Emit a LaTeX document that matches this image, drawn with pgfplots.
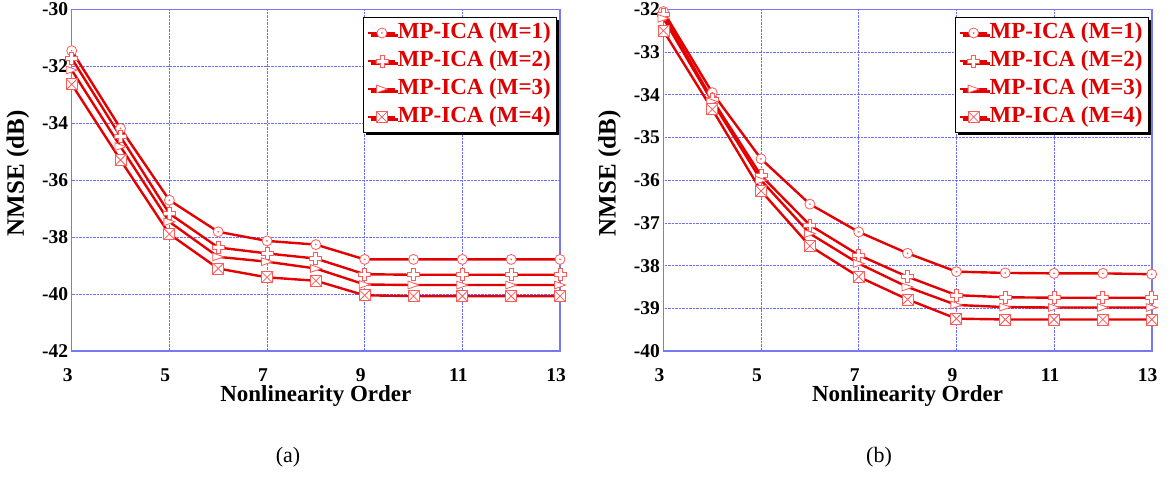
\documentclass[border=0pt]{standalone}
\usepackage{pgfplots}
\pgfplotsset{compat=1.18}
\usepackage{fontspec}
\setmainfont{Liberation Serif}
\usetikzlibrary{shadows}
\definecolor{lred}{RGB}{228,0,0}
\definecolor{mred}{RGB}{255,90,90}
\definecolor{tred}{RGB}{222,0,0}
\definecolor{gridblue}{RGB}{110,110,255}
\definecolor{axblue}{RGB}{120,120,245}

\pgfdeclareplotmark{dotcirc}{%
  \pgfpathcircle{\pgfpointorigin}{\pgfplotmarksize}\pgfusepathqfillstroke
  \pgfpathcircle{\pgfpointorigin}{0.4pt}\pgfusepathqstroke}
\pgfdeclareplotmark{hollowplus}{%
  \pgfmathsetlengthmacro\ma{\pgfplotmarksize}%
  \pgfmathsetlengthmacro\mb{0.33*\pgfplotmarksize}%
  \pgfpathmoveto{\pgfqpoint{-\mb}{\ma}}%
  \pgfpathlineto{\pgfqpoint{\mb}{\ma}}%
  \pgfpathlineto{\pgfqpoint{\mb}{\mb}}%
  \pgfpathlineto{\pgfqpoint{\ma}{\mb}}%
  \pgfpathlineto{\pgfqpoint{\ma}{-\mb}}%
  \pgfpathlineto{\pgfqpoint{\mb}{-\mb}}%
  \pgfpathlineto{\pgfqpoint{\mb}{-\ma}}%
  \pgfpathlineto{\pgfqpoint{-\mb}{-\ma}}%
  \pgfpathlineto{\pgfqpoint{-\mb}{-\mb}}%
  \pgfpathlineto{\pgfqpoint{-\ma}{-\mb}}%
  \pgfpathlineto{\pgfqpoint{-\ma}{\mb}}%
  \pgfpathlineto{\pgfqpoint{-\mb}{\mb}}%
  \pgfpathclose\pgfusepathqfillstroke}
\pgfdeclareplotmark{rtri}{%
  \pgfmathsetlengthmacro\ma{\pgfplotmarksize}%
  \pgfmathsetlengthmacro\mb{0.7*\pgfplotmarksize}%
  \pgfpathmoveto{\pgfqpoint{-\ma}{\mb}}%
  \pgfpathlineto{\pgfqpoint{\ma}{0pt}}%
  \pgfpathlineto{\pgfqpoint{-\ma}{-\mb}}%
  \pgfpathclose\pgfusepathqfillstroke}
\pgfdeclareplotmark{boxx}{%
  \pgfpathrectangle{\pgfqpoint{-\pgfplotmarksize}{-\pgfplotmarksize}}{\pgfqpoint{2\pgfplotmarksize}{2\pgfplotmarksize}}%
  \pgfusepathqfillstroke
  \pgfpathmoveto{\pgfqpoint{-\pgfplotmarksize}{-\pgfplotmarksize}}%
  \pgfpathlineto{\pgfqpoint{\pgfplotmarksize}{\pgfplotmarksize}}%
  \pgfpathmoveto{\pgfqpoint{-\pgfplotmarksize}{\pgfplotmarksize}}%
  \pgfpathlineto{\pgfqpoint{\pgfplotmarksize}{-\pgfplotmarksize}}%
  \pgfusepathqstroke}

\pgfplotsset{
  mystyle/.style={
    scale only axis, width=488.3pt, height=341.7pt,
    anchor=south west, clip=false,
    xmin=3, xmax=13, xtick={3,5,7,9,11,13}, xticklabels={3,5,7,9,11,13},
    grid=major, major grid style={densely dotted, gridblue, line width=0.7pt},
    axis line style={axblue, line width=1.6pt},
    major tick length=0pt,
    tick label style={font=\fontsize{19.5}{19.5}\selectfont\bfseries},
    xticklabel style={anchor=base, yshift=-30pt, xshift=-4pt},
    label style={font=\fontsize{23}{23}\selectfont\bfseries},
    xlabel={Nonlinearity Order}, ylabel={NMSE (dB)},
    xlabel style={at={(axis description cs:0.5,-0.148)}, anchor=base},
    ylabel style={at={(axis description cs:-0.110,0.52)}, anchor=center, font=\fontsize{25}{25}\selectfont\bfseries},
    legend cell align=left,
    legend style={at={(1,1)}, anchor=north east, xshift=-3pt, yshift=-7.5pt,
      draw=black, line width=1.2pt, fill=white,
      font=\fontsize{23}{23}\selectfont\bfseries, text=tred,
      inner xsep=4pt, inner ysep=1.5pt, row sep=0pt,
      nodes={inner xsep=1.5pt, inner ysep=2.5pt, text height=17pt, text depth=6pt},
      drop shadow={shadow xshift=2.5pt, shadow yshift=-2.5pt, fill=black, opacity=1}},
    legend image code/.code={\draw[mark repeat=2,mark phase=2,##1, line width=2pt] plot coordinates {(0pt,0pt) (13.5pt,0pt) (27pt,0pt)};},
    every axis plot/.append style={lred, line width=2.4pt},
  },
  m1/.style={mark=dotcirc, mark size=5pt, mark options={draw=mred, fill=white, line width=0.8pt, solid}},
  m2/.style={mark=hollowplus, mark size=6pt, mark options={draw=mred, fill=white, line width=0.8pt, solid}},
  m3/.style={mark=rtri, mark size=5.5pt, mark options={draw=mred, fill=white, line width=0.8pt, solid}},
  m4/.style={mark=boxx, mark size=5.5pt, mark options={draw=mred, fill=white, line width=0.8pt, solid}},
}

\begin{document}
\begin{tikzpicture}
\path[use as bounding box] (0pt,0pt) rectangle (1176pt,477pt);

\begin{axis}[mystyle, at={(71.7pt,125.9pt)},
  ymin=-42, ymax=-30, ytick={-42,-40,-38,-36,-34,-32,-30},
  yticklabels={-42,-40,-38,-36,-34,-32,-30}]
\addplot[m1] coordinates {(3,-31.45)(4,-34.18)(5,-36.70)(6,-37.81)(7,-38.13)(8,-38.26)(9,-38.78)(10,-38.78)(11,-38.78)(12,-38.78)(13,-38.78)};
\addplot[m2] coordinates {(3,-31.72)(4,-34.47)(5,-37.17)(6,-38.36)(7,-38.57)(8,-38.75)(9,-39.30)(10,-39.32)(11,-39.32)(12,-39.32)(13,-39.32)};
\addplot[m3] coordinates {(3,-32.13)(4,-34.82)(5,-37.46)(6,-38.69)(7,-38.86)(8,-39.10)(9,-39.66)(10,-39.68)(11,-39.68)(12,-39.68)(13,-39.68)};
\addplot[m4] coordinates {(3,-32.63)(4,-35.29)(5,-37.89)(6,-39.10)(7,-39.41)(8,-39.53)(9,-40.04)(10,-40.07)(11,-40.07)(12,-40.07)(13,-40.07)};
\legend{MP-ICA (M=1),MP-ICA (M=2),MP-ICA (M=3),MP-ICA (M=4)}
\end{axis}

\begin{axis}[mystyle, at={(663.4pt,125.9pt)},
  ymin=-40, ymax=-32, ytick={-40,-39,-38,-37,-36,-35,-34,-33,-32},
  yticklabels={-40,-39,-38,-37,-36,-35,-34,-33,-32}]
\addplot[m1] coordinates {(3,-32.05)(4,-33.95)(5,-35.50)(6,-36.56)(7,-37.21)(8,-37.71)(9,-38.14)(10,-38.17)(11,-38.18)(12,-38.18)(13,-38.20)};
\addplot[m2] coordinates {(3,-32.11)(4,-34.11)(5,-35.89)(6,-37.05)(7,-37.75)(8,-38.26)(9,-38.69)(10,-38.74)(11,-38.75)(12,-38.75)(13,-38.75)};
\addplot[m3] coordinates {(3,-32.21)(4,-34.16)(5,-36.00)(6,-37.25)(7,-37.95)(8,-38.50)(9,-38.92)(10,-38.97)(11,-38.98)(12,-38.98)(13,-38.98)};
\addplot[m4] coordinates {(3,-32.50)(4,-34.34)(5,-36.25)(6,-37.54)(7,-38.26)(8,-38.79)(9,-39.24)(10,-39.26)(11,-39.26)(12,-39.26)(13,-39.26)};
\legend{MP-ICA (M=1),MP-ICA (M=2),MP-ICA (M=3),MP-ICA (M=4)}
\end{axis}

\node[font=\fontsize{22}{22}\selectfont, anchor=base] at (288pt,15pt) {(a)};
\node[font=\fontsize{22}{22}\selectfont, anchor=base] at (879pt,15pt) {(b)};
\end{tikzpicture}
\end{document}
